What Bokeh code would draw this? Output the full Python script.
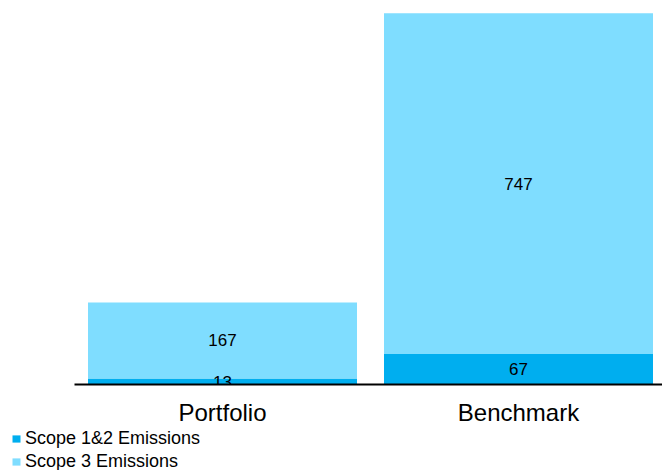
from bokeh.plotting import figure
from bokeh.layouts import column
from bokeh.models import ColumnDataSource, Range1d, FixedTicker, Legend, LegendItem
from bokeh.core.properties import value
from bokeh.embed import file_html
from bokeh.resources import INLINE

categories = ["Portfolio", "Benchmark"]
scope12 = [13, 67]
scope3 = [167, 747]
series_names = ["Scope 1&2 Emissions", "Scope 3 Emissions"]
colors = ["#00AEEF", "#7FDDFF"]

xpos = [i + 0.5 for i in range(len(categories))]
top12 = scope12
top3 = [a + b for a, b in zip(scope12, scope3)]
mid12 = [a / 2 for a in scope12]
mid3 = [a + b / 2 for a, b in zip(scope12, scope3)]

src = ColumnDataSource(dict(x=xpos, top12=top12, top3=top3, mid12=mid12, mid3=mid3,
                            l12=[str(v) for v in scope12], l3=[str(v) for v in scope3]))

FONT = "Liberation Sans"
LEFT = 11
X0, X1 = -(74 - LEFT) / 296, (662 - 74) / 296
p = figure(width=662, height=428, output_backend="svg", toolbar_location=None,
           x_range=Range1d(X0, X1), y_range=Range1d(0, 842),
           min_border_left=LEFT, min_border_right=0, min_border_top=0, min_border_bottom=44)
p.outline_line_color = None
p.grid.visible = False
p.yaxis.visible = False

r1 = p.vbar(x="x", bottom=0, top="top12", width=269 / 296, color=colors[0], line_color=None, source=src)
r2 = p.vbar(x="x", bottom="top12", top="top3", width=269 / 296, color=colors[1], line_color=None, source=src)

p.text(x="x", y="mid12", text="l12", source=src, text_align="center", text_baseline="middle",
       text_font=value(FONT), text_font_size="17px", text_color="black")
p.text(x="x", y="mid3", text="l3", source=src, text_align="center", text_baseline="middle",
       text_font=value(FONT), text_font_size="17px", text_color="black")

ax = p.xaxis[0]
ax.ticker = FixedTicker(ticks=xpos)
ax.bounds = (0, X1)
ax.major_label_overrides = {x: c for x, c in zip(xpos, categories)}
ax.axis_line_width = 2
ax.axis_line_color = "black"
ax.major_tick_line_color = None
ax.minor_tick_line_color = None
ax.major_tick_out = 0
ax.major_tick_in = 0
ax.major_label_standoff = 14
ax.major_label_text_font = FONT
ax.major_label_text_font_size = "24px"
ax.major_label_text_color = "black"

# legend panel
lp = figure(width=662, height=42, output_backend="svg", toolbar_location=None,
            x_range=Range1d(0, 1), y_range=Range1d(0, 1),
            min_border_left=LEFT, min_border_right=0, min_border_top=0, min_border_bottom=0)
lp.outline_line_color = None
lp.grid.visible = False
lp.axis.visible = False
g1 = lp.vbar(x="x", bottom=0, top="top12", width=0.5, color=colors[0], line_color=None,
             source=src, visible=False)
g2 = lp.vbar(x="x", bottom="top12", top="top3", width=0.5, color=colors[1], line_color=None,
             source=src, visible=False)
legend = Legend(items=[LegendItem(label=series_names[0], renderers=[g1]),
                       LegendItem(label=series_names[1], renderers=[g2])],
                orientation="vertical", location="top_left",
                glyph_width=10, glyph_height=9, label_height=20, spacing=2,
                label_standoff=4, padding=0, margin=0,
                border_line_color=None, background_fill_alpha=0,
                inactive_fill_alpha=0,
                label_text_font=FONT, label_text_font_size="18px", label_text_color="black")
lp.add_layout(legend, "center")

open("out.html", "w").write(file_html(column(p, lp, spacing=0), INLINE))
